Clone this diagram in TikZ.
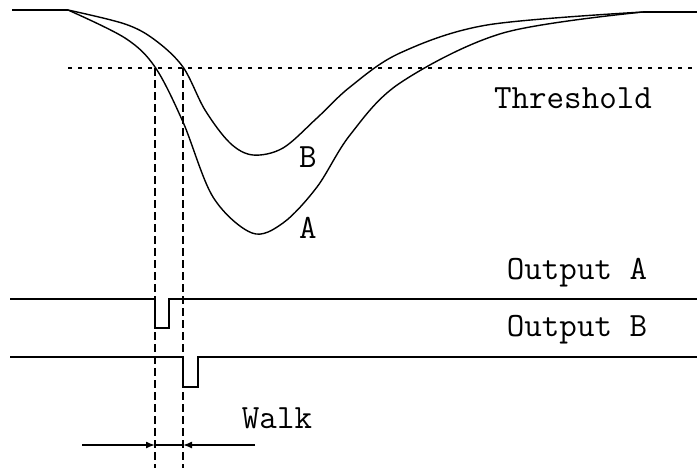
\documentclass[tikz,border=0pt]{standalone}
\usepackage{fontspec}
\usepackage{tikz}
\usetikzlibrary{arrows.meta}
\tikzstyle{caption} = [
    font=\ttfamily\fontsize{17}{20}\selectfont,
    inner sep=0pt
]
\tikzstyle{pulse} = [line width=0.65pt, line join=miter]
\tikzstyle{wave} = [line width=0.7pt]
\tikzstyle{marker} = [line width=0.55pt, dash pattern=on 4pt off 2pt]
\tikzstyle{level} = [line width=0.6pt, dash pattern=on 2.2pt off 2.8pt]
\tikzstyle{arrow} = [line width=0.75pt,-{Latex[length=4.5pt,width=3.5pt]}]

\begin{document}
\begin{tikzpicture}[x=0.5pt,y=-0.5pt]

\useasboundingbox (0,0) rectangle (697,468);

% crossing points and end points
\coordinate (crossA) at (155,68);
\coordinate (crossB) at (183,68);
\coordinate (start) at (68,10);
\coordinate (join) at (643,12);

% pulses
\draw [wave] (12,10) -- (start);
\draw [wave] plot [smooth, tension=0.55] coordinates {(68,10) (125,38) (155,67) (183,122) (213,197) (252,233) (283,223) (317,187) (350,135) (400,83) (503,33) (643,12)};
\draw [wave] plot [smooth, tension=0.55] coordinates {(68,10) (125,24) (155,40) (183,67) (205,110) (230,143) (253,155) (283,148) (317,118) (350,87) (400,53) (487,25) (643,12)};
\draw [wave] (join) -- (697,12);

% threshold
\draw [level] (68,68) -- (697,68);
\node (thresh) [caption] at (573,98) {Threshold};

\node (labB) [caption] at (308,157) {B};
\node (labA) [caption] at (308,228) {A};

% walk markers
\draw [marker] (crossA) -- (155,468);
\draw [marker] (crossB) -- (183,468);

% outputs
\node (outA) [caption] at (577,273) {Output A};
\draw [pulse] (10,299) -- (155,299) -- (155,328) -- (169,328) -- (169,299) -- (697,299);

\node (outB) [caption] at (577,330) {Output B};
\draw [pulse] (10,357) -- (183,357) -- (183,387) -- (198,387) -- (198,357) -- (697,357);

\node (walk) [caption] at (277,418) {Walk};
\coordinate (walkA) at (155,445);
\coordinate (walkB) at (183,445);
\draw [arrow] (82,445) -- (walkA);
\draw [arrow] (255,445) -- (walkB);
\draw [line width=0.65pt] (walkA) -- (walkB);

\end{tikzpicture}
\end{document}
